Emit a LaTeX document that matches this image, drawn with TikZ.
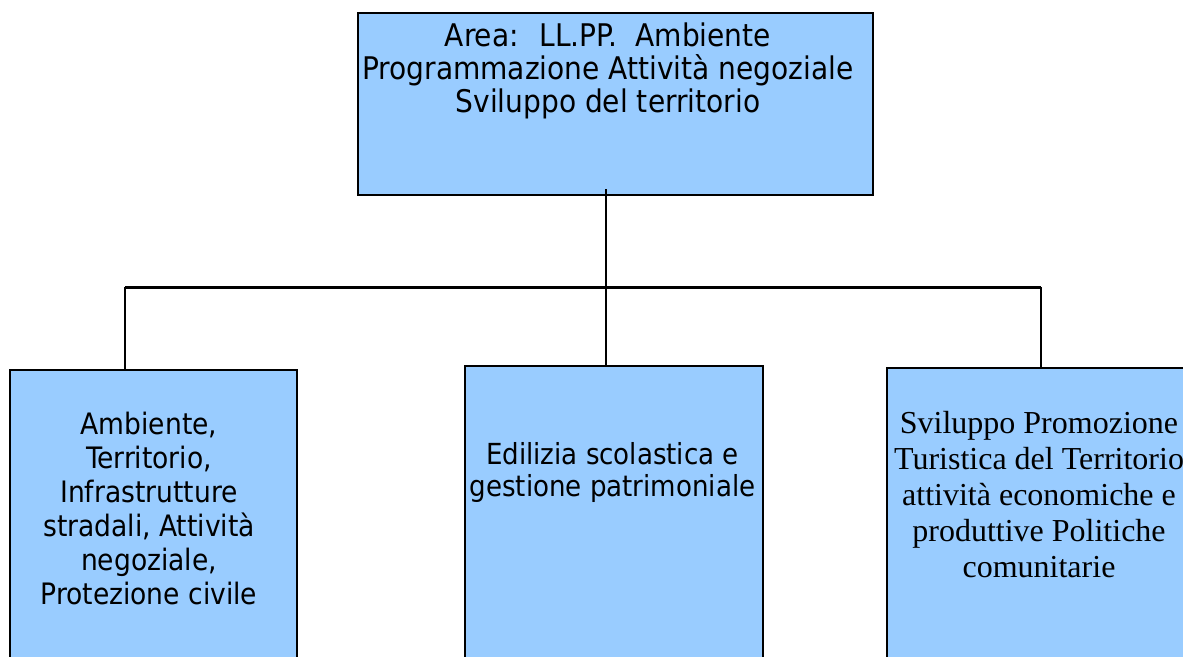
\documentclass[tikz,border=0pt]{standalone}
\usepackage{fontspec}
\setmainfont{DejaVu Sans Condensed}
\newfontfamily\serifbox{Liberation Serif}
\usetikzlibrary{positioning}
\definecolor{cBOX}{HTML}{99CCFF}

\begin{document}
\begin{tikzpicture}[x=1pt, y=-1pt,
  unitbox/.style={draw=black, fill=cBOX, line width=2.8pt, inner sep=0pt},
  unittext/.style={anchor=north, align=center, inner sep=0pt},
  link/.style={line width=2pt}]
\useasboundingbox (0,0) rectangle (1183,656);
\clip (0,0) rectangle (1183,656);
% boxes
\node[unitbox, minimum width=515pt, minimum height=182pt] (area) at (615.5,104) {};
\node[unitbox, minimum width=287pt, minimum height=310pt] (amb) at (153.5,525) {};
\node[unitbox, minimum width=298pt, minimum height=310pt] (edi) at (614,521) {};
\node[unitbox, minimum width=303pt, minimum height=310pt] (svi) at (1038.5,523) {};
% texts
\node[unittext, font=\fontsize{31.2}{33}\selectfont] (areatxt) at (608,23)
  {Area:~ LL.PP.~ Ambiente\\Programmazione Attività negoziale\\Sviluppo del territorio};
\node[unittext, font=\fontsize{29.5}{34}\selectfont] (ambtxt) at (149,412)
  {Ambiente,\\Territorio,\\Infrastrutture\\stradali, Attività\\negoziale,\\Protezione civile};
\node[unittext, font=\fontsize{29}{32}\selectfont] (editxt) at (612.5,442)
  {Edilizia scolastica e\\gestione patrimoniale};
\node[unittext, font=\serifbox\fontsize{32}{36}\selectfont] (svitxt) at (1039,411)
  {Sviluppo Promozione\\Turistica del Territorio\\attività economiche e\\produttive Politiche\\comunitarie};
% connectors
\coordinate (busL) at (125,287);
\coordinate (busM) at (606,287);
\coordinate (busR) at (1041,287);
\coordinate (areafoot) at (606,189);
\draw[line width=3pt] (busL) -- (busR);
\draw[link] (areafoot) -- (busM);
\draw[link] (busL) -- (busL |- amb.north);
\draw[link] (busM) -- (busM |- edi.north);
\draw[link] (busR) -- (busR |- svi.north);
\end{tikzpicture}
\end{document}
